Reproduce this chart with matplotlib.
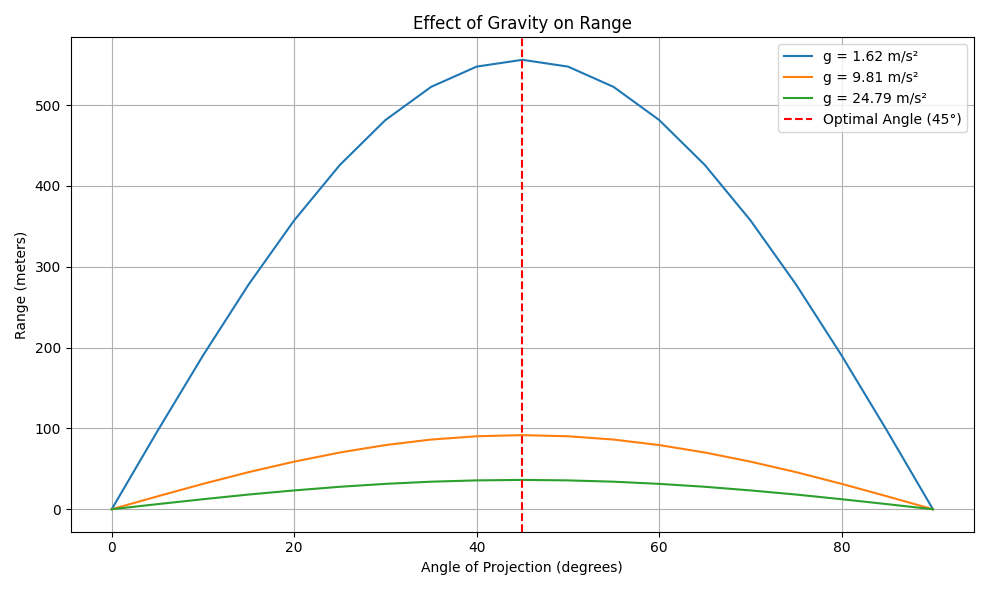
import matplotlib
matplotlib.use("Agg")
import matplotlib.pyplot as plt

angles = [0, 5, 10, 15, 20, 25, 30, 35, 40, 45, 50, 55, 60, 65, 70, 75, 80, 85, 90]
range_moon = [0, 96.5, 190.1, 278.0, 357.4, 425.9, 481.5, 522.5, 547.6, 556.0,
              547.6, 522.5, 481.5, 425.9, 357.4, 278.0, 190.1, 96.5, 0]
range_earth = [0, 15.9, 31.4, 45.9, 58.9, 70.2, 79.4, 86.2, 90.3, 91.7,
               90.3, 86.2, 79.4, 70.2, 58.9, 45.9, 31.4, 15.9, 0]
range_jupiter = [0, 6.3, 12.4, 18.2, 23.3, 27.8, 31.4, 34.1, 35.7, 36.3,
                 35.7, 34.1, 31.4, 27.8, 23.3, 18.2, 12.4, 6.3, 0]
labels = ["g = 1.62 m/s²", "g = 9.81 m/s²", "g = 24.79 m/s²"]
optimal_angle = 45

fig, ax = plt.subplots(figsize=(9.89, 5.9), dpi=100)
for ys, lab in zip([range_moon, range_earth, range_jupiter], labels):
    ax.plot(angles, ys, label=lab)
ax.axvline(optimal_angle, color="red", linestyle="--", label="Optimal Angle (45°)")
ax.set_title("Effect of Gravity on Range")
ax.set_xlabel("Angle of Projection (degrees)")
ax.set_ylabel("Range (meters)")
ax.grid(True)
ax.legend(loc="upper right")
fig.tight_layout()
fig.savefig("out.png")
